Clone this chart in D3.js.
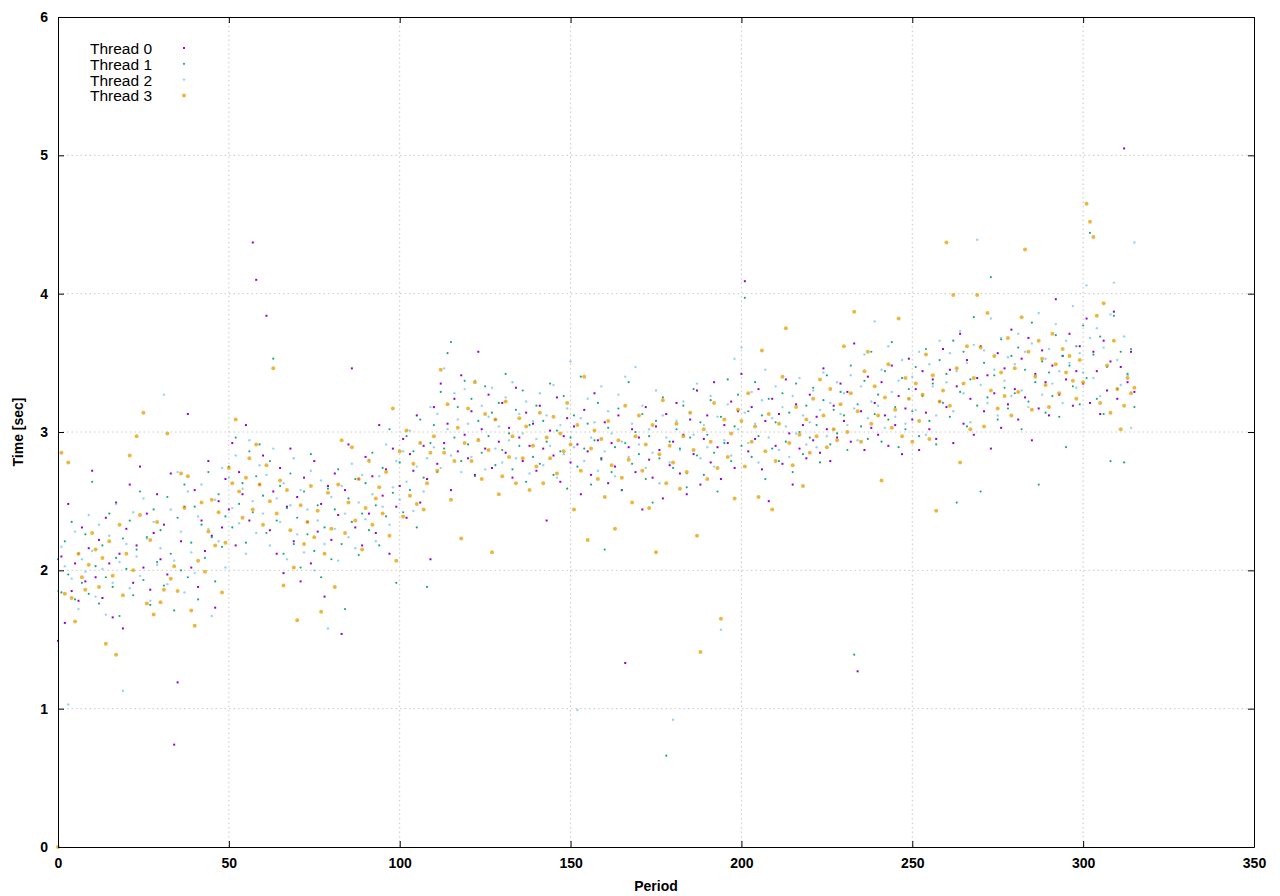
<!DOCTYPE html>
<html>
<head>
<meta charset="utf-8">
<script src="https://cdn.jsdelivr.net/npm/d3@7"></script>
<style>
  body { margin: 0; background: #fff; }
  svg { display: block; font-family: "Liberation Sans", Arial, sans-serif; }
  .axis text { font-size: 14px; font-weight: bold; fill: #000; }
  .axis path, .axis line { stroke: #000; }
  .grid line { stroke: #c8c8c8; stroke-dasharray: 1.5,3; }
</style>
</head>
<body>
<div id="chart"></div>
<script>
// Datos: tiempo por periodo (un valor por periodo, empezando en 0)
const threadNames = ["Thread 0", "Thread 1", "Thread 2", "Thread 3"];
const xTicks = [0, 50, 100, 150, 200, 250, 300, 350];
const yTicks = [0, 1, 2, 3, 4, 5, 6];

const thread0 = [
  1.49, 2.10, 1.62, 2.48, 1.85, 2.05, 1.78, 2.31, 1.92, 2.16,
  2.72, 1.95, 2.22, 1.80, 2.38, 2.05, 1.66, 2.49, 2.12, 1.58,
  2.30, 2.62, 1.91, 2.18, 2.75, 2.02, 2.41, 1.86, 2.27, 2.55,
  2.08, 2.33, 1.97, 2.70, 0.74, 1.19, 2.21, 2.46, 3.13, 2.02,
  2.58, 1.88, 2.36, 2.14, 2.79, 2.25, 1.73, 2.50, 2.31, 2.66,
  2.44, 2.92, 2.18, 2.71, 2.55, 3.05, 2.36, 4.37, 4.10, 2.62,
  2.83, 3.84, 2.29, 2.57, 2.12, 2.74, 1.98, 2.46, 2.88, 2.21,
  2.53, 1.92, 2.67, 2.35, 2.05, 2.79, 2.28, 2.48, 1.81, 2.61,
  2.22, 2.70, 2.40, 1.54, 2.58, 2.91, 3.46, 2.31, 2.66, 2.18,
  2.82, 2.41, 2.68, 2.27, 3.05, 2.54, 2.73, 2.12, 2.88, 2.46,
  2.61, 2.95, 2.38, 2.84, 2.72, 3.12, 2.49, 2.90, 2.66, 2.08,
  3.18, 2.77, 3.35, 2.92, 3.06, 2.58, 3.24, 2.86, 3.41, 2.98,
  2.81, 3.15, 2.69, 3.58, 3.02, 2.88, 3.27, 2.74, 3.09, 2.93,
  3.21, 2.85, 3.03, 2.67, 3.32, 2.96, 2.79, 3.14, 2.90, 3.06,
  2.72, 3.19, 2.88, 2.36, 3.01, 2.83, 3.25, 2.64, 2.97, 3.10,
  2.78, 3.04, 2.91, 2.55, 3.16, 2.86, 2.69, 3.28, 2.94, 2.81,
  3.07, 2.63, 2.92, 2.75, 3.12, 2.58, 1.33, 2.89, 3.02, 2.71,
  2.96, 2.44, 3.18, 2.80, 2.67, 3.04, 2.87, 2.52, 3.13, 2.76,
  2.93, 3.21, 2.70, 2.98, 2.55, 3.09, 2.84, 3.30, 2.62, 2.95,
  3.12, 2.78, 3.36, 2.89, 2.66, 3.05, 2.92, 3.22, 2.74, 3.15,
  3.42, 4.09, 2.86, 3.18, 2.95, 3.31, 2.73, 3.08, 2.50, 3.24,
  2.90, 3.13, 2.77, 3.38, 2.99, 2.62, 3.20, 2.88, 3.05, 2.81,
  3.27, 2.94, 3.11, 2.85, 3.46, 3.02, 2.79, 3.19, 2.96, 3.35,
  3.08, 3.29, 2.93, 3.64, 1.27, 3.15, 2.87, 3.40, 3.03, 3.21,
  2.98, 3.36, 3.12, 2.90, 3.48, 3.05, 3.26, 2.84, 3.17, 3.53,
  3.09, 3.31, 2.87, 3.44, 3.14, 3.02, 3.38, 2.95, 3.22, 3.60,
  3.18, 3.45, 2.92, 3.33, 3.71, 3.06, 3.52, 3.24, 2.98, 3.39,
  3.62, 3.15, 3.41, 2.88, 3.28, 3.57, 3.03, 3.46, 3.20, 3.74,
  3.31, 3.09, 3.53, 3.25, 3.68, 2.94, 3.42, 3.17, 3.59, 3.36,
  3.12, 3.48, 3.96, 3.27, 3.55, 3.38, 3.71, 3.19, 3.44, 3.62,
  3.35, 3.82, 3.21, 3.58, 3.44, 3.13, 3.66, 3.30, 3.51, 3.87,
  3.24, 3.47, 5.05, 3.36, 3.58, 3.29
];

const thread1 = [
  2.08, 1.84, 2.21, 1.97, 2.35, 1.79, 2.12, 1.91, 2.26, 1.83,
  2.64, 2.03, 1.76, 2.18, 1.95, 2.41, 1.88, 2.09, 1.67, 2.23,
  2.01, 2.36, 1.82, 2.15, 2.57, 1.93, 2.24, 1.75, 2.44, 2.06,
  2.29, 1.89, 2.53, 2.12, 1.71, 2.38, 2.00, 2.62, 1.95, 2.20,
  2.46, 1.79, 2.33, 2.09, 2.71, 2.24, 1.92, 2.55, 2.17, 2.39,
  2.75, 2.31, 2.96, 2.48, 2.63, 2.20, 2.86, 2.42, 2.68, 2.91,
  2.54, 2.27, 2.79, 3.53, 2.36, 2.61, 2.12, 2.45, 2.70, 2.19,
  2.38, 2.02, 2.57, 2.26, 2.84, 2.14, 2.47, 1.95, 2.31, 2.59,
  2.08, 2.44, 2.73, 2.19, 1.72, 2.52, 2.35, 2.66, 2.11, 2.41,
  2.63, 2.29, 2.85, 2.47, 2.18, 2.74, 2.39, 3.02, 2.56, 1.91,
  2.78, 2.42, 2.97, 2.58, 2.86, 2.31, 3.09, 2.67, 1.88, 2.92,
  3.05, 2.71, 3.29, 2.88, 3.57, 3.65, 2.96, 3.18, 2.79, 3.37,
  2.91, 3.24, 2.68, 3.08, 2.85, 3.33, 2.97, 3.14, 2.76, 3.21,
  2.87, 3.42, 2.99, 2.73, 3.16, 2.90, 3.30, 2.64, 3.05, 2.82,
  3.19, 2.77, 3.08, 2.93, 3.35, 2.69, 3.01, 2.86, 3.26, 2.59,
  2.96, 3.12, 2.75, 3.40, 2.88, 3.06, 2.62, 2.94, 3.21, 2.80,
  2.15, 3.03, 2.71, 2.89, 3.17, 2.58, 2.92, 3.36, 2.77, 3.00,
  2.84, 3.13, 2.66, 2.97, 2.49, 3.08, 2.81, 3.25, 0.66, 2.93,
  2.74, 3.02, 2.88, 3.19, 2.60, 2.96, 3.31, 2.83, 3.07, 2.69,
  2.98, 3.23, 2.85, 2.57, 3.11, 2.92, 3.38, 2.79, 3.04, 3.27,
  2.90, 3.97, 3.15, 2.82, 3.36, 2.97, 3.12, 2.66, 3.24, 2.88,
  3.07, 2.79, 3.28, 2.93, 3.14, 2.71, 3.35, 3.00, 2.84, 3.19,
  2.96, 3.32, 3.05, 2.78, 3.23, 3.41, 2.91, 3.16, 2.99, 3.29,
  3.12, 2.87, 3.48, 1.39, 3.20, 3.04, 3.37, 2.95, 3.58, 3.13,
  3.27, 2.93, 3.44, 3.09, 3.65, 3.18, 2.89, 3.39, 3.02, 3.31,
  3.15, 3.47, 2.97, 3.26, 3.60, 3.08, 3.35, 2.91, 3.52, 3.21,
  3.42, 3.11, 3.66, 2.49, 3.29, 3.58, 3.04, 3.38, 3.83, 3.19,
  2.57, 3.50, 3.25, 4.12, 3.41, 3.09, 3.67, 3.32, 3.17, 3.55,
  3.28, 3.61, 3.02, 3.45, 3.22, 3.79, 3.36, 2.62, 3.51, 3.14,
  3.43, 3.26, 3.70, 3.11, 3.55, 2.89, 3.48, 3.33, 3.62, 3.20,
  3.77, 3.39, 4.44, 3.56, 3.24, 3.69, 3.13, 3.47, 2.79, 3.84,
  3.31, 3.58, 2.78, 3.42, 3.60, 3.18
];

const thread2 = [
  1.85, 2.17, 2.03, 1.03, 1.94, 2.28, 1.72, 2.08, 1.99, 2.40,
  2.14, 1.81, 2.33, 2.01, 1.68, 2.25, 1.91, 2.48, 2.06, 1.13,
  2.19, 1.87, 2.42, 2.10, 1.96, 2.52, 2.23, 1.78, 2.35, 2.04,
  2.16, 3.27, 1.90, 2.44, 2.07, 2.71, 2.28, 1.84, 2.57, 2.13,
  1.98, 2.39, 2.62, 2.09, 2.30, 1.67, 2.51, 2.21, 2.74, 2.02,
  2.67, 2.45, 2.83, 2.34, 2.59, 2.12, 2.94, 2.50, 2.27, 2.76,
  2.41, 2.69, 2.18, 2.88, 2.52, 2.35, 2.63, 2.08, 2.47, 2.81,
  2.26, 2.58, 2.13, 2.44, 2.72, 2.00, 2.36, 2.65, 2.19, 1.58,
  2.53, 2.30, 2.07, 2.61, 2.41, 2.24, 2.77, 2.16, 2.49, 2.69,
  2.37, 2.80, 2.55, 2.21, 2.68, 2.46, 2.91, 2.33, 2.60, 2.79,
  2.51, 2.86, 2.64, 3.01, 2.43, 2.75, 2.92, 2.57, 2.81, 3.18,
  2.89, 3.13, 2.74, 3.46, 3.02, 2.83, 3.28, 3.09, 2.71, 3.31,
  3.06, 2.82, 3.37, 2.95, 3.19, 2.73, 3.11, 3.32, 2.88, 3.04,
  2.78, 3.25, 2.94, 3.36, 2.81, 3.13, 2.99, 3.22, 2.70, 3.08,
  2.95, 3.28, 2.76, 3.12, 2.90, 3.34, 2.67, 3.05, 2.84, 3.17,
  3.51, 2.89, 0.99, 3.10, 2.79, 3.24, 2.96, 3.07, 2.72, 3.33,
  2.86, 3.15, 2.99, 2.68, 3.27, 2.93, 3.40, 2.82, 3.06, 3.47,
  2.91, 3.19, 2.74, 3.02, 2.85, 3.30, 2.63, 3.12, 2.96, 2.78,
  0.92, 3.08, 2.87, 3.22, 2.70, 3.14, 2.98, 3.35, 2.81, 3.05,
  2.89, 3.26, 2.75, 3.11, 1.57, 2.94, 3.20, 2.83, 3.53, 3.02,
  3.61, 3.14, 2.92, 3.29, 3.06, 2.78, 3.23, 3.45, 2.96, 3.10,
  3.33, 2.87, 3.18, 3.04, 2.82, 3.26, 2.99, 3.39, 3.12, 2.91,
  3.07, 3.30, 2.89, 3.16, 3.43, 2.97, 3.21, 3.02, 3.36, 3.13,
  3.28, 3.05, 3.41, 3.17, 2.94, 3.33, 3.56, 3.10, 3.22, 3.80,
  3.19, 3.45, 3.03, 3.62, 3.29, 3.11, 3.37, 3.52, 3.06, 3.24,
  3.40, 3.16, 3.58, 3.27, 2.98, 3.49, 3.33, 3.12, 3.66, 3.21,
  3.36, 3.57, 3.15, 3.44, 3.73, 3.28, 3.50, 3.07, 3.63, 4.39,
  3.34, 3.59, 3.21, 3.82, 3.45, 3.12, 3.68, 3.37, 3.54, 3.26,
  3.49, 3.71, 3.30, 3.58, 3.18, 3.64, 3.41, 3.86, 3.27, 3.53,
  3.60, 3.35, 3.78, 3.44, 3.21, 3.66, 3.50, 3.91, 3.32, 3.57,
  3.43, 4.06, 3.68, 3.39, 3.75, 3.26, 3.61, 3.47, 3.85, 4.08,
  3.52, 3.34, 3.69, 3.41, 3.03, 4.37
];

const thread3 = [
  0.00, 2.85, 1.83, 2.78, 1.80, 1.63, 2.12, 1.95, 1.86, 2.04,
  2.27, 2.15, 1.88, 2.09, 1.47, 2.21, 1.96, 1.39, 2.33, 1.82,
  2.12, 2.83, 2.00, 2.97, 2.40, 3.14, 1.76, 2.22, 1.68, 2.35,
  1.77, 1.86, 2.99, 1.94, 2.03, 1.85, 2.70, 2.45, 2.68, 1.71,
  1.60, 2.07, 2.49, 1.99, 2.28, 2.51, 2.18, 2.42, 1.84, 2.20,
  2.74, 2.63, 3.09, 2.57, 2.38, 2.67, 2.81, 2.44, 2.91, 2.62,
  2.33, 2.76, 2.50, 3.46, 2.41, 2.65, 1.89, 2.58, 2.29, 2.02,
  1.64, 2.47, 2.19, 2.35, 2.61, 2.24, 2.43, 1.70, 2.12, 2.56,
  2.30, 1.88, 2.62, 2.94, 2.27, 2.49, 2.89, 2.36, 2.66, 2.15,
  2.45, 2.79, 2.33, 2.52, 2.60, 2.41, 2.71, 2.25, 3.17, 2.07,
  2.86, 2.39, 3.01, 2.54, 2.77, 2.48, 2.92, 2.44, 2.63, 2.85,
  2.97, 2.72, 3.45, 2.85, 3.20, 2.51, 2.79, 3.03, 2.23, 2.92,
  3.17, 2.79, 3.36, 2.94, 2.66, 3.13, 2.87, 2.13, 3.09, 2.55,
  2.68, 3.22, 2.82, 2.97, 2.63, 3.10, 2.81, 3.04, 2.58, 2.90,
  2.75, 3.14, 2.63, 2.96, 2.81, 3.11, 2.70, 2.99, 2.86, 3.21,
  2.91, 2.44, 3.05, 2.72, 3.40, 2.22, 2.88, 3.01, 2.66, 2.95,
  2.53, 3.08, 2.76, 2.30, 2.94, 2.67, 3.19, 2.80, 2.49, 2.97,
  3.12, 2.72, 2.91, 2.45, 3.05, 2.13, 2.84, 3.23, 2.63, 2.90,
  2.78, 3.06, 2.59, 2.97, 2.71, 3.14, 2.87, 2.25, 1.41, 3.02,
  2.66, 2.93, 3.21, 2.74, 1.65, 3.09, 2.82, 2.99, 2.52, 3.16,
  3.08, 2.75, 3.28, 2.93, 3.04, 2.53, 3.59, 2.86, 3.13, 2.44,
  2.79, 3.06, 3.40, 3.75, 2.92, 2.76, 3.18, 2.98, 2.61, 3.09,
  2.85, 3.24, 2.97, 3.38, 3.12, 2.89, 3.31, 3.02, 2.94, 3.20,
  3.62, 3.00, 3.28, 3.87, 3.15, 2.93, 3.44, 3.58, 3.06, 3.33,
  3.12, 2.65, 3.25, 3.49, 3.03, 3.16, 3.82, 2.97, 3.39, 3.24,
  2.93, 3.35, 3.08, 3.27, 3.56, 2.95, 3.41, 2.43, 3.22, 3.30,
  4.37, 3.19, 3.99, 3.46, 2.78, 3.35, 3.62, 3.02, 3.39, 3.99,
  3.61, 3.04, 3.86, 3.30, 3.55, 3.17, 3.43, 3.26, 3.68, 3.12,
  3.46, 3.29, 3.83, 4.32, 3.58, 3.16, 3.40, 3.66, 3.53, 3.34,
  3.18, 3.71, 3.49, 3.28, 3.60, 3.43, 3.55, 3.37, 3.24, 3.52,
  3.36, 4.65, 4.52, 4.41, 3.84, 3.21, 3.93, 3.48, 3.14, 3.66,
  3.31, 3.02, 3.19, 3.39, 3.28, 3.32
];

const threadColors = ["#9400d3", "#009e73", "#56b4e9", "#e69f00"];
const threadRadius = [1, 1.1, 1.2, 2.0];
const threadOpacity = [1, 0.9, 0.6, 0.75];

function renderScatter() {
    const width = 1280;
    const height = 896;
    const margin = { top: 17, right: 26, bottom: 49, left: 58 };
    const innerWidth = width - margin.left - margin.right;
    const innerHeight = height - margin.top - margin.bottom;

    const svg = d3.select("#chart")
        .append("svg")
        .attr("width", width)
        .attr("height", height);

    const g = svg.append("g")
        .attr("transform", `translate(${margin.left},${margin.top})`);

    // Escalas
    const x = d3.scaleLinear().domain([0, 350]).range([0, innerWidth]);
    const y = d3.scaleLinear().domain([0, 6]).range([innerHeight, 0]);

    // Rejilla punteada
    const grid = g.append("g").attr("class", "grid");
    grid.selectAll(".gx")
        .data(xTicks.slice(1, -1))
        .enter().append("line")
        .attr("x1", d => x(d)).attr("x2", d => x(d))
        .attr("y1", 0).attr("y2", innerHeight);
    grid.selectAll(".gy")
        .data(yTicks.slice(1, -1))
        .enter().append("line")
        .attr("x1", 0).attr("x2", innerWidth)
        .attr("y1", d => y(d)).attr("y2", d => y(d));

    // Puntos, en el orden de los hilos
    const series = [thread0, thread1, thread2, thread3];
    series.forEach((vals, i) => {
        const layer = g.append("g").attr("class", "thread-" + i);
        const pts = vals.map((v, p) => ({ p: p, v: v }));
        if (i === 0) {
            layer.selectAll("rect")
                .data(pts).enter().append("rect")
                .attr("x", d => x(d.p) - 1)
                .attr("y", d => y(d.v) - 1)
                .attr("width", 2).attr("height", 2)
                .attr("fill", threadColors[i]);
        } else {
            layer.selectAll("circle")
                .data(pts).enter().append("circle")
                .attr("cx", d => x(d.p))
                .attr("cy", d => y(d.v))
                .attr("r", threadRadius[i])
                .attr("fill", threadColors[i])
                .attr("fill-opacity", threadOpacity[i]);
        }
    });

    // Ejes (marcas hacia dentro, en los cuatro lados)
    const fmt = d3.format("d");
    g.append("g")
        .attr("class", "axis")
        .attr("transform", `translate(0,${innerHeight})`)
        .call(d3.axisBottom(x).tickValues(xTicks).tickFormat(fmt).tickSizeInner(-6).tickSizeOuter(0).tickPadding(11));
    g.append("g")
        .attr("class", "axis")
        .call(d3.axisLeft(y).tickValues(yTicks).tickFormat(fmt).tickSizeInner(-6).tickSizeOuter(0).tickPadding(10));
    g.append("g")
        .attr("class", "axis")
        .call(d3.axisTop(x).tickValues(xTicks).tickSizeInner(-6).tickSizeOuter(0).tickFormat(""));
    g.append("g")
        .attr("class", "axis")
        .attr("transform", `translate(${innerWidth},0)`)
        .call(d3.axisRight(y).tickValues(yTicks).tickSizeInner(-6).tickSizeOuter(0).tickFormat(""));

    // Etiquetas de los ejes
    svg.append("text")
        .attr("x", margin.left + innerWidth / 2)
        .attr("y", 891)
        .attr("text-anchor", "middle")
        .style("font-size", "14px")
        .style("font-weight", "bold")
        .text("Period");

    svg.append("text")
        .attr("transform", `translate(23,${margin.top + innerHeight / 2}) rotate(-90)`)
        .attr("text-anchor", "middle")
        .style("font-size", "14px")
        .style("font-weight", "bold")
        .text("Time [sec]");

    // Leyenda
    const legend = svg.append("g").attr("class", "legend");
    threadNames.forEach((name, i) => {
        const ly = 49 + i * 15.8;
        legend.append("text")
            .attr("x", 90)
            .attr("y", ly + 5)
            .style("font-size", "15.5px")
            .text(name);
        if (i === 0) {
            legend.append("rect")
                .attr("x", 183).attr("y", ly - 2)
                .attr("width", 2).attr("height", 2)
                .attr("fill", threadColors[i]);
        } else {
            legend.append("circle")
                .attr("cx", 184).attr("cy", ly - 1)
                .attr("r", threadRadius[i])
                .attr("fill", threadColors[i])
                .attr("fill-opacity", threadOpacity[i]);
        }
    });
}

document.addEventListener("DOMContentLoaded", renderScatter);
</script>
</body>
</html>
